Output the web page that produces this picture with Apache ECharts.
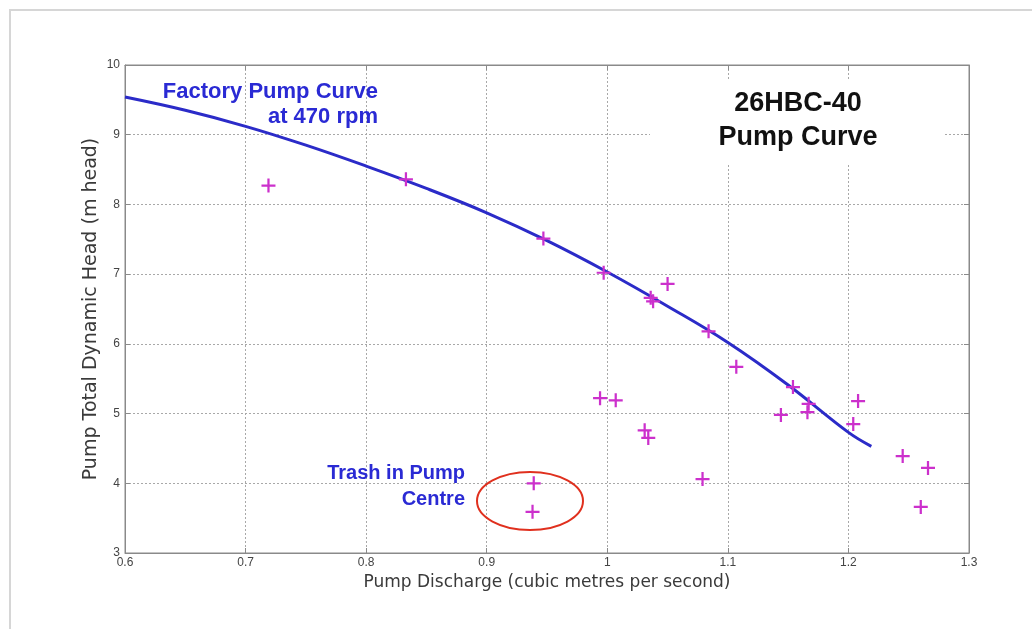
<!DOCTYPE html>
<html>
<head>
<meta charset="utf-8">
<script src="https://cdn.jsdelivr.net/npm/echarts@6/dist/echarts.min.js"></script>
<style>
html,body{margin:0;padding:0;background:#fff;}
#chart{width:1032px;height:629px;}
</style>
</head>
<body>
<div id="chart"></div>
<script>
// Factory pump curve
const pumpCurveQ = [0.60, 0.65, 0.70, 0.75, 0.80, 0.85, 0.90, 0.95, 1.00, 1.05, 1.10, 1.15, 1.20, 1.219];
const pumpCurveH = [9.54, 9.35, 9.12, 8.85, 8.55, 8.23, 7.88, 7.48, 7.03, 6.54, 6.02, 5.41, 4.73, 4.53];
// Measured operating points
const measuredQ = [0.719, 0.833, 0.947, 0.997, 1.036, 1.038, 1.050, 1.084, 1.107, 0.994, 1.007, 1.031, 1.034, 1.079, 1.144, 1.154, 1.166, 1.167, 1.208, 1.204, 1.245, 1.266, 1.260, 0.939, 0.938];
const measuredH = [8.27, 8.36, 7.51, 7.02, 6.66, 6.61, 6.86, 6.18, 5.67, 5.22, 5.19, 4.76, 4.65, 4.06, 4.98, 5.38, 5.02, 5.14, 5.18, 4.85, 4.39, 4.22, 3.66, 4.00, 3.59];
// Axis settings / labels
const xName = 'Pump Discharge (cubic metres per second)';
const yName = 'Pump Total Dynamic Head (m head)';
const xRange = [0.6, 1.3, 0.1];
const yRange = [3, 10, 1];

const curveData = pumpCurveQ.map((q, i) => [q, pumpCurveH[i]]);
const pointData = measuredQ.map((q, i) => [q, measuredH[i]]);

const blue = '#2b2bc8';
const txtBlue = '#2a2ad4';
const magenta = '#cc30cc';
const gridLine = { show: true, lineStyle: { color: '#a8a8a8', type: [2, 2], width: 1 } };
const font = 'Liberation Sans, Arial, sans-serif';
const wideFont = 'DejaVu Sans, sans-serif';

const chart = echarts.init(document.getElementById('chart'));
chart.setOption({
  animation: false,
  backgroundColor: '#fff',
  grid: { left: 125, right: 63, top: 65, bottom: 76, show: true, borderColor: '#8a8a8a', borderWidth: 1 },
  xAxis: [{
    type: 'value', min: xRange[0], max: xRange[1], interval: xRange[2],
    name: xName, nameLocation: 'middle', nameGap: 21, nameMoveOverlap: false,
    nameTextStyle: { fontFamily: wideFont, fontSize: 17, color: '#3a3a3a' },
    axisLine: { lineStyle: { color: '#8a8a8a' } },
    axisTick: { inside: true, length: 5, lineStyle: { color: '#8a8a8a' } },
    axisLabel: { fontFamily: font, fontSize: 12, color: '#444', margin: 4 },
    splitLine: gridLine
  }, {
    type: 'value', position: 'top', min: xRange[0], max: xRange[1], interval: xRange[2],
    axisLine: { lineStyle: { color: '#8a8a8a' } },
    axisTick: { inside: true, length: 5, lineStyle: { color: '#8a8a8a' } },
    axisLabel: { show: false }, splitLine: { show: false }
  }],
  yAxis: [{
    type: 'value', min: yRange[0], max: yRange[1], interval: yRange[2],
    name: yName, nameLocation: 'middle', nameGap: 24, nameRotate: 90, nameMoveOverlap: false,
    nameTextStyle: { fontFamily: wideFont, fontSize: 19, color: '#3a3a3a' },
    axisLine: { show: true, lineStyle: { color: '#8a8a8a' } },
    axisTick: { show: true, inside: true, length: 5, lineStyle: { color: '#8a8a8a' } },
    axisLabel: { fontFamily: font, fontSize: 12, color: '#444', margin: 5 },
    splitLine: gridLine
  }, {
    type: 'value', position: 'right', min: yRange[0], max: yRange[1], interval: yRange[2],
    axisLine: { show: true, lineStyle: { color: '#8a8a8a' } },
    axisTick: { show: true, inside: true, length: 5, lineStyle: { color: '#8a8a8a' } },
    axisLabel: { show: false }, splitLine: { show: false }
  }],
  series: [{
    type: 'line', name: 'Factory Pump Curve', data: curveData, smooth: 0.4,
    showSymbol: false, lineStyle: { color: blue, width: 3 }, z: 3
  }, {
    type: 'scatter', name: 'Measured', data: pointData,
    symbol: 'path://M4.2,0 H5.8 V4.2 H10 V5.8 H5.8 V10 H4.2 V5.8 H0 V4.2 H4.2 Z',
    symbolSize: 14, itemStyle: { color: magenta, opacity: 1 }, z: 4
  }],
  graphic: [
    { type: 'rect', shape: { x: 10, y: 10, width: 1040, height: 640 }, style: { fill: 'none', stroke: '#d6d6d6', lineWidth: 2 }, z: 0, silent: true },
    { type: 'rect', shape: { x: 650, y: 80, width: 295, height: 85 }, style: { fill: '#fff' }, z: 1, silent: true },
    { type: 'text', x: 798, y: 104, z: 5, style: { text: '26HBC-40', font: 'bold 27px ' + font, fill: '#111', textAlign: 'center', textVerticalAlign: 'middle' } },
    { type: 'text', x: 798, y: 138, z: 5, style: { text: 'Pump Curve', font: 'bold 27px ' + font, fill: '#111', textAlign: 'center', textVerticalAlign: 'middle' } },
    { type: 'text', x: 378, y: 92, z: 5, style: { text: 'Factory Pump Curve', font: 'bold 22px ' + font, fill: txtBlue, textAlign: 'right', textVerticalAlign: 'middle' } },
    { type: 'text', x: 378, y: 117, z: 5, style: { text: 'at 470 rpm', font: 'bold 22px ' + font, fill: txtBlue, textAlign: 'right', textVerticalAlign: 'middle' } },
    { type: 'text', x: 465, y: 473, z: 5, style: { text: 'Trash in Pump', font: 'bold 20px ' + font, fill: txtBlue, textAlign: 'right', textVerticalAlign: 'middle' } },
    { type: 'text', x: 465, y: 499, z: 5, style: { text: 'Centre', font: 'bold 20px ' + font, fill: txtBlue, textAlign: 'right', textVerticalAlign: 'middle' } },
    { type: 'ellipse', shape: { cx: 530, cy: 501, rx: 53, ry: 29 }, style: { fill: 'none', stroke: '#e0301e', lineWidth: 2 }, z: 5, silent: true }
  ]
});
</script>
</body>
</html>
